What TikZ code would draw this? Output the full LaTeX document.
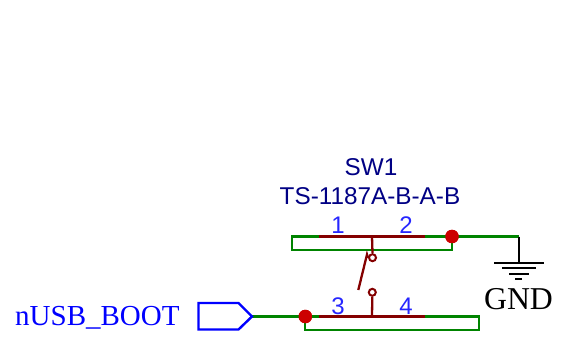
\documentclass[tikz,border=0pt]{standalone}
\usepackage{fontspec}
\setmainfont{Liberation Serif}
\newfontfamily\arialf{Liberation Sans}
\definecolor{wiregreen}{RGB}{0,132,0}
\definecolor{symred}{RGB}{132,0,0}
\definecolor{dotred}{RGB}{204,0,0}
\definecolor{pinblue}{RGB}{0,0,255}
\definecolor{refnavy}{RGB}{0,0,132}
\tikzset{
  wire/.style={draw=wiregreen,line width=2.3pt,line join=miter},
  sym/.style={draw=symred,line width=2.3pt},
  gnd/.style={draw=black,line width=2.1pt},
  junction/.style={circle,fill=dotred,draw=none,minimum size=13.5pt,inner sep=0pt},
  contact/.style={circle,draw=symred,fill=white,line width=2pt,minimum size=7pt,inner sep=0pt},
  pinnum/.style={font=\arialf\fontsize{24}{24}\selectfont,text=pinblue!85!white,anchor=base,inner sep=0pt},
  reftext/.style={font=\arialf\fontsize{24.3}{24.3}\selectfont,text=refnavy,anchor=base,inner sep=0pt},
  nettext/.style={anchor=base,inner sep=0pt}
}
\begin{document}
\begin{tikzpicture}[x=1pt,y=-1pt]
\useasboundingbox (0,0) rectangle (563,343);
% named points
\coordinate (tl) at (319,236.5);
\coordinate (tc) at (372,236.5);
\coordinate (tr) at (425,236.5);
\coordinate (bl) at (319,316.5);
\coordinate (bc) at (372,316.5);
\coordinate (br) at (425,316.5);
\coordinate (gt) at (518.7,236.5);
\coordinate (gb) at (518.7,262.7);
\coordinate (armA) at (367,254.5);
\coordinate (armB) at (358.3,290);
\coordinate (tie1) at (292,236.5);
\coordinate (tie2) at (292,249.7);
\coordinate (tie3) at (452,249.7);
\coordinate (tie4) at (305.3,329.7);
\coordinate (tie5) at (479,329.7);
\coordinate (tie6) at (479,316.5);
\node[junction] (jt) at (452,236.5) {};
\node[junction] (jb) at (305.3,316.5) {};
\coordinate (tip) at (252,316.5);
% wires
\draw[wire] (tl) -- (tie1) -- (tie2) -- (tie3) -- (jt.center);
\draw[wire] (tr) -- (gt);
\draw[wire] (tip) -- (bl);
\draw[wire] (jb.center) -- (tie4) -- (tie5) -- (tie6) -- (br);
% switch
\draw[sym] (tl) -- (tr);
\draw[sym] (bl) -- (br);
\node[contact] (ct) at (372.5,257.7) {};
\node[contact] (cb) at (372.3,292.3) {};
\draw[sym] (tc) -- (ct.north);
\draw[sym] (bc) -- (cb.south);
\draw[sym] (ct.west) -- (armA) -- (armB);
% junctions on top
\node[junction] at (jt) {};
\node[junction] at (jb) {};
% ground
\draw[gnd] (gt) -- (gb);
\coordinate (g1a) at (494,262.7); \coordinate (g1b) at (543.5,262.7);
\coordinate (g2a) at (502,268.3); \coordinate (g2b) at (536,268.3);
\coordinate (g3a) at (509,274); \coordinate (g3b) at (528.5,274);
\coordinate (g4a) at (515,279.3); \coordinate (g4b) at (522,279.3);
\draw[gnd] (g1a) -- (g1b);
\draw[gnd] (g2a) -- (g2b);
\draw[gnd] (g3a) -- (g3b);
\draw[gnd] (g4a) -- (g4b);
% port
\draw[draw=pinblue,line width=2.4pt,line join=miter] (198.5,303) -- (238.5,303) -- (tip) -- (238.5,329.5) -- (198.5,329.5) -- cycle;
% text
\node[reftext] (sw) at (371,175) {SW1};
\node[reftext] (val) at (370,204.5) {TS-1187A-B-A-B};
\node[pinnum] (p1) at (338,233.3) {1};
\node[pinnum] (p2) at (406,233.3) {2};
\node[pinnum] (p3) at (338,314) {3};
\node[pinnum] (p4) at (406,314) {4};
\node[nettext,font=\fontsize{31.8}{31.8}\selectfont,text=black] (gndl) at (518.5,309) {GND};
\node[nettext,font=\fontsize{29}{29}\selectfont,text=pinblue,anchor=base west] (net) at (15,325) {nUSB\_BOOT};
\end{tikzpicture}
\end{document}
